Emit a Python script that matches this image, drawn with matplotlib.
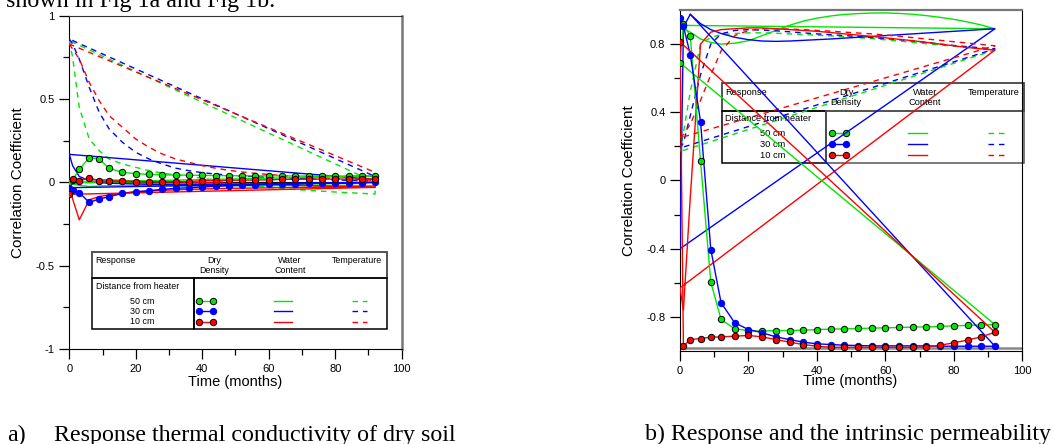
import matplotlib
matplotlib.use('Agg')
import matplotlib.pyplot as plt
from matplotlib.patches import Rectangle
from matplotlib.ticker import FuncFormatter

plt.rcParams['font.family'] = ['Liberation Sans', 'DejaVu Sans']

# sampling times (months) shared by every series
months = [0, 1, 3, 6, 9, 12, 16, 20, 24, 28, 32, 36, 40, 44, 48, 52, 56, 60,
          64, 68, 72, 76, 80, 84, 88, 92]

distances = ['50 cm', '30 cm', '10 cm']

# a) correlation with thermal conductivity of dry soil
a_dry_50 = [0.0, 0.015, 0.078, 0.148, 0.14, 0.084, 0.06, 0.052, 0.048, 0.045, 0.044, 0.043, 0.042,
            0.041, 0.04, 0.04, 0.039, 0.039, 0.039, 0.038, 0.038, 0.038, 0.038, 0.038, 0.038, 0.038]
a_dry_30 = [-0.032, -0.045, -0.062, -0.12, -0.1, -0.086, -0.066, -0.056, -0.05, -0.042, -0.036, -0.032,
            -0.028, -0.024, -0.02, -0.018, -0.015, -0.012, -0.01, -0.008, -0.006, -0.005, -0.004,
            -0.003, -0.002, 0.0]
a_dry_10 = [-0.072, 0.02, 0.008, 0.028, 0.008, 0.008, 0.006, 0.004, 0.004, 0.004, 0.004, 0.004, 0.01,
            0.01, 0.012, 0.013, 0.014, 0.015, 0.018, 0.018, 0.019, 0.019, 0.02, 0.02, 0.02, 0.02]
a_wat_50 = [0.0, -0.01, -0.018, -0.025, -0.022, -0.02, -0.02, -0.02, -0.02, -0.02, -0.02, -0.02, -0.02,
            -0.02, -0.02, -0.02, -0.02, -0.02, -0.02, -0.02, -0.02, -0.02, -0.02, -0.02, -0.02, -0.02]
a_wat_30 = [0.168, 0.10, 0.035, 0.01, 0.0, -0.005, -0.008, -0.01, -0.012, -0.013, -0.013, -0.013,
            -0.012, -0.012, -0.011, -0.01, -0.009, -0.008, -0.007, -0.006, -0.005, -0.004, -0.003,
            -0.002, -0.001, 0.0]
a_wat_10 = [0.02, -0.1, -0.225, -0.105, -0.085, -0.075, -0.065, -0.058, -0.052, -0.048, -0.045, -0.042,
            -0.04, -0.038, -0.036, -0.035, -0.034, -0.033, -0.032, -0.031, -0.03, -0.03, -0.03, -0.03,
            -0.03, -0.03]
a_tmp_50 = [0.85, 0.75, 0.45, 0.26, 0.19, 0.14, 0.11, 0.09, 0.07, 0.055, 0.045, 0.035, 0.025, 0.012,
            0.0, -0.012, -0.022, -0.03, -0.037, -0.043, -0.048, -0.053, -0.058, -0.062, -0.066, -0.07]
a_tmp_30 = [0.86, 0.83, 0.74, 0.57, 0.42, 0.32, 0.24, 0.18, 0.14, 0.11, 0.085, 0.07, 0.058, 0.05,
            0.043, 0.038, 0.034, 0.03, 0.027, 0.024, 0.021, 0.018, 0.015, 0.012, 0.01, 0.008]
a_tmp_10 = [0.83, 0.80, 0.74, 0.60, 0.49, 0.40, 0.33, 0.26, 0.21, 0.17, 0.14, 0.12, 0.10, 0.085,
            0.072, 0.062, 0.054, 0.047, 0.041, 0.036, 0.031, 0.027, 0.023, 0.019, 0.015, 0.012]
# straight return strokes drawn after the last point (None = back to the first point)
a_tail_dry = [None, None, [(92, -0.03), (0, -0.072)]]
a_tail_wat = [None, [(92, 0.017), (0, 0.168)], None]
a_tail_tmp = [[(92, 0.0), (0, 0.85)], [(92, 0.035), (0, 0.86)], [(92, 0.06), (0, 0.83)]]

# b) correlation with intrinsic permeability
b_dry_50 = [0.69, 0.915, 0.847, 0.113, -0.596, -0.815, -0.87, -0.88, -0.884, -0.88, -0.88, -0.878,
            -0.874, -0.872, -0.87, -0.868, -0.866, -0.864, -0.862, -0.86, -0.858, -0.856, -0.852,
            -0.85, -0.847, -0.845]
b_dry_30 = [0.954, 0.905, 0.739, 0.346, -0.405, -0.717, -0.835, -0.874, -0.893, -0.917, -0.933,
            -0.948, -0.958, -0.962, -0.966, -0.968, -0.97, -0.97, -0.97, -0.97, -0.97, -0.972, -0.972,
            -0.972, -0.972, -0.972]
b_dry_10 = [0.813, -0.972, -0.933, -0.927, -0.919, -0.917, -0.913, -0.909, -0.917, -0.933, -0.948,
            -0.962, -0.972, -0.978, -0.978, -0.978, -0.978, -0.978, -0.978, -0.978, -0.976, -0.966,
            -0.952, -0.936, -0.917, -0.89]
b_wat_50 = [0.91, 0.89, 0.87, 0.83, 0.81, 0.80, 0.805, 0.82, 0.85, 0.88, 0.91, 0.935, 0.952, 0.965,
            0.974, 0.979, 0.982, 0.983, 0.98, 0.975, 0.967, 0.957, 0.945, 0.93, 0.912, 0.89]
b_wat_30 = [-0.40, 0.90, 0.975, 0.92, 0.885, 0.862, 0.84, 0.826, 0.818, 0.816, 0.818, 0.822, 0.826,
            0.83, 0.835, 0.84, 0.845, 0.85, 0.855, 0.86, 0.865, 0.87, 0.875, 0.88, 0.885, 0.89]
b_wat_10 = [-0.63, -0.76, -0.1, 0.80, 0.87, 0.885, 0.89, 0.895, 0.895, 0.89, 0.885, 0.88, 0.875,
            0.868, 0.86, 0.853, 0.845, 0.837, 0.828, 0.82, 0.81, 0.80, 0.79, 0.78, 0.772, 0.765]
b_tmp_50 = [0.17, 0.28, 0.52, 0.80, 0.84, 0.855, 0.862, 0.866, 0.866, 0.864, 0.86, 0.856, 0.852,
            0.848, 0.843, 0.838, 0.832, 0.825, 0.818, 0.81, 0.802, 0.795, 0.787, 0.78, 0.773, 0.765]
b_tmp_30 = [0.19, 0.22, 0.38, 0.62, 0.80, 0.86, 0.88, 0.885, 0.882, 0.878, 0.872, 0.866, 0.86,
            0.855, 0.85, 0.845, 0.838, 0.832, 0.826, 0.818, 0.81, 0.80, 0.792, 0.785, 0.778, 0.772]
b_tmp_10 = [0.25, 0.27, 0.33, 0.47, 0.62, 0.76, 0.85, 0.88, 0.89, 0.89, 0.888, 0.885, 0.88, 0.876,
            0.87, 0.865, 0.86, 0.853, 0.846, 0.838, 0.83, 0.822, 0.814, 0.806, 0.798, 0.79]
b_tail_dry = [None, [(3, 0.975)], None]
b_tail_wat = [None, None, None]
b_tail_tmp = [None, None, None]

colours = ['#00e600', '#0000ff', '#ff0000']
edge = ['black', '#0000ff', 'black']


def trace(ax, y, tail, **kw):
    if tail is None:
        tail = [(months[0], y[0])]
    xs = list(months) + [p[0] for p in tail]
    ys = list(y) + [p[1] for p in tail]
    ax.plot(xs, ys, **kw)


def panel(ax, dry, wat, tmp, tails, yticks, yminor, L):
    ax.set_xlim(0, 100)
    ax.set_ylim(-1, 1)
    ax.set_xticks(range(0, 101, 20))
    ax.set_xticks(range(10, 100, 20), minor=True)
    ax.set_yticks(yticks)
    ax.set_yticks(yminor, minor=True)
    ax.yaxis.set_major_formatter(FuncFormatter(lambda v, p: f'{v:g}'))
    ax.tick_params(which='both', direction='out', labelsize=8, width=0.9, pad=3)
    ax.tick_params(which='major', length=7.5)
    ax.tick_params(which='minor', length=4)
    ax.set_xlabel('Time (months)', fontsize=10.5, va='center')
    ax.set_ylabel('Correlation Coefficient', fontsize=11, va='center')

    for i in range(3):
        trace(ax, tmp[i], tails[2][i], color=colours[i], lw=1.0, ls=(0, (4, 3.5)), zorder=3)
        trace(ax, wat[i], tails[1][i], color=colours[i], lw=1.0, zorder=3)
    for i in range(3):
        trace(ax, dry[i], tails[0][i], color=colours[i], lw=1.0, zorder=4)
        ax.plot(months, dry[i], ls='none', marker='o', ms=4.6, mfc=colours[i],
                mec=edge[i], mew=0.7, zorder=5)

    # legend table
    fs = L['fs']
    kw = dict(fill=False, zorder=2, clip_on=False)
    ax.add_patch(Rectangle((L['x0'], L['ymid']), L['x1'] - L['x0'], L['ytop'] - L['ymid'],
                           ec='#444444', lw=1.3, **kw))
    ax.add_patch(Rectangle((L['x0'], L['ybot']), L['xdiv'] - L['x0'], L['ymid'] - L['ybot'],
                           ec='black', lw=1.1, **kw))
    ax.add_patch(Rectangle((L['xdiv'], L['ybot']), L['x1'] - L['xdiv'], L['ymid'] - L['ybot'],
                           ec=L['ec2'], lw=1.1, **kw))
    ax.text(L['xresp'], L['row1'], 'Response', fontsize=fs, va='center')
    ax.text(L['cols'][0], L['row1'], 'Dry', fontsize=fs, ha='center', va='center')
    ax.text(L['cols'][0], L['row2'], 'Density', fontsize=fs, ha='center', va='center')
    ax.text(L['cols'][1], L['row1'], 'Water', fontsize=fs, ha='center', va='center')
    ax.text(L['cols'][1], L['row2'], 'Content', fontsize=fs, ha='center', va='center')
    ax.text(L['cols'][2], L['row1'], 'Temperature', fontsize=fs, ha='center', va='center')
    ax.text(L['xresp'], L['rowd'], 'Distance from heater', fontsize=fs, va='center')
    for i in range(3):
        yy = L['rows'][i]
        ax.text(L['xdist'], yy, distances[i], fontsize=fs, ha='center', va='center')
        ax.plot(L['mk'], [yy, yy], color=colours[i], lw=1.0, marker='o', ms=4.6,
                mfc=colours[i], mec=edge[i], mew=0.7, clip_on=False)
        ax.plot(L['wl'], [yy, yy], color=colours[i], lw=1.0, clip_on=False)
        ax.plot(L['tl'], [yy, yy], color=colours[i], lw=1.0, ls=(0, (4, 3.5)), clip_on=False)


fig = plt.figure(figsize=(10.53, 4.44), dpi=100)

ax1 = fig.add_axes([69.3 / 1053, 95 / 444, 332.4 / 1053, 333.3 / 444])
leg_a = dict(fs=6.4, x0=6.9, x1=95.5, xdiv=37.6, ytop=-0.416, ymid=-0.572, ybot=-0.882, ec2='black',
             xresp=7.9, row1=-0.466, row2=-0.526, cols=[43.5, 66.4, 86.6], rowd=-0.626,
             xdist=22.0, rows=[-0.712, -0.774, -0.836], mk=[39.1, 43.1], wl=[61.6, 66.9],
             tl=[85.0, 89.6])
panel(ax1, [a_dry_50, a_dry_30, a_dry_10], [a_wat_50, a_wat_30, a_wat_10],
      [a_tmp_50, a_tmp_30, a_tmp_10], [a_tail_dry, a_tail_wat, a_tail_tmp],
      [-1, -0.5, 0, 0.5, 1], [-0.75, -0.25, 0.25, 0.75], leg_a)
ax1.axhline(0, xmax=0.92, color='black', lw=0.8, zorder=2.5)
ax1.spines['top'].set_color('#333333')
ax1.spines['right'].set_color('#777777')
ax1.spines['right'].set_linewidth(1.8)
ax1.xaxis.set_label_coords(0.5, -0.099)
ax1.yaxis.set_label_coords(-0.153, 0.5)

ax2 = fig.add_axes([680 / 1053, 93 / 444, 342.3 / 1053, 341 / 444])
leg_b = dict(fs=6.7, x0=12.2, x1=100.6, xdiv=42.7, ytop=0.570, ymid=0.409, ybot=0.101, ec2='#555555',
             xresp=13.1, row1=0.519, row2=0.455, cols=[48.5, 71.6, 91.8], rowd=0.361,
             xdist=27.2, rows=[0.277, 0.214, 0.148], mk=[44.3, 48.4], wl=[66.7, 72.1],
             tl=[90.1, 94.9])
panel(ax2, [b_dry_50, b_dry_30, b_dry_10], [b_wat_50, b_wat_30, b_wat_10],
      [b_tmp_50, b_tmp_30, b_tmp_10], [b_tail_dry, b_tail_wat, b_tail_tmp],
      [-0.8, -0.4, 0, 0.4, 0.8], [-0.6, -0.2, 0.2, 0.6], leg_b)
ax2.axhline(-0.984, color='#888888', lw=1.8, zorder=2.5)
ax2.spines['top'].set_color('#777777')
ax2.spines['top'].set_linewidth(1.6)
ax2.xaxis.set_label_coords(0.498, -0.088)
ax2.yaxis.set_label_coords(-0.149, 0.5)

serif = ['Liberation Serif', 'DejaVu Serif']
fig.text(6 / 1053, 1 - 7 / 444, 'shown in Fig 1a and Fig 1b.', family=serif, fontsize=17.3,
         va='baseline')
fig.text(7 / 1053, 1 - 441 / 444, 'a)', family=serif, fontsize=17.3, va='baseline')
fig.text(54 / 1053, 1 - 441 / 444, 'Response thermal conductivity of dry soil', family=serif,
         fontsize=17.3, va='baseline')
fig.text(645 / 1053, 1 - 440 / 444, 'b) Response and the intrinsic permeability', family=serif,
         fontsize=17.3, va='baseline')

fig.savefig('out.png', dpi=100)
